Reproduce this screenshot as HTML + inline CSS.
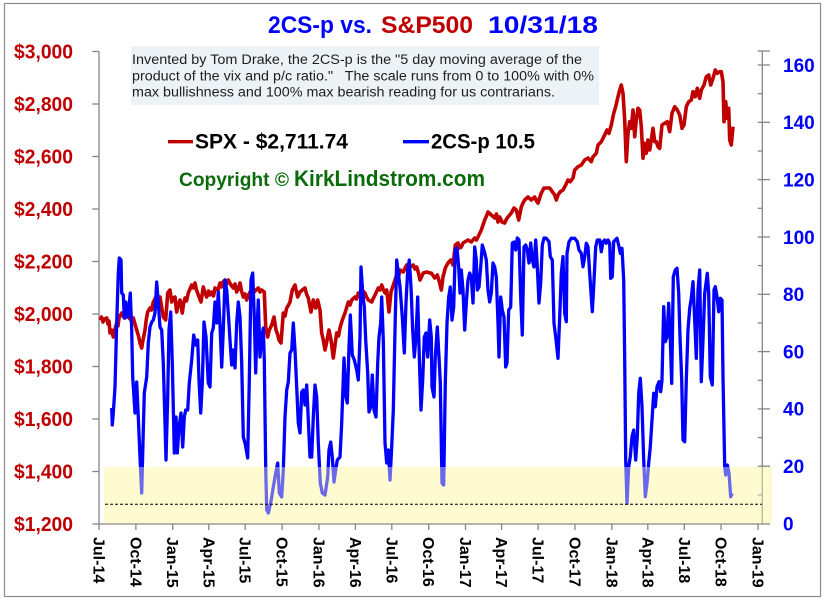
<!DOCTYPE html>
<html><head><meta charset="utf-8"><style>
html,body{margin:0;padding:0;background:#fff;}
svg{display:block;font-family:"Liberation Sans",Arial,sans-serif;}
</style></head><body>
<svg width="826" height="602" viewBox="0 0 826 602" xmlns="http://www.w3.org/2000/svg">
<rect x="0" y="0" width="826" height="602" fill="#fff"/>
<rect x="4.5" y="3.5" width="816" height="593" fill="none" stroke="#8a8a8a" stroke-width="1.2"/>

<!-- title -->
<text x="268" y="33" font-size="24" font-weight="bold" fill="#0000ff" textLength="104" lengthAdjust="spacingAndGlyphs">2CS-p vs.</text>
<text x="381" y="33" font-size="24" font-weight="bold" fill="#c00000" textLength="92" lengthAdjust="spacingAndGlyphs">S&amp;P500</text>
<text x="488" y="33" font-size="24" font-weight="bold" fill="#0000ff" textLength="110" lengthAdjust="spacingAndGlyphs">10/31/18</text>

<!-- text box -->
<rect x="131" y="46" width="468" height="59" fill="#edf2f7"/>
<text x="132" y="64" font-size="13.5" fill="#1e1e1e" textLength="450" lengthAdjust="spacingAndGlyphs" style="white-space:pre">Invented by Tom Drake, the 2CS-p is the "5 day moving average of the</text>
<text x="132" y="80.3" font-size="13.5" fill="#1e1e1e" textLength="462" lengthAdjust="spacingAndGlyphs" style="white-space:pre">product of the vix and p/c ratio."   The scale runs from 0 to 100% with 0%</text>
<text x="132" y="96.3" font-size="13.5" fill="#1e1e1e" textLength="423" lengthAdjust="spacingAndGlyphs" style="white-space:pre">max bullishness and 100% max bearish reading for us contrarians.</text>

<!-- legend -->
<line x1="168" y1="141.7" x2="193" y2="141.7" stroke="#c00000" stroke-width="3.3"/>
<text x="195" y="148.3" font-size="21" font-weight="bold" fill="#000" textLength="153" lengthAdjust="spacingAndGlyphs">SPX - $2,711.74</text>
<line x1="403" y1="141.7" x2="429" y2="141.7" stroke="#0000ff" stroke-width="3.3"/>
<text x="431" y="148.3" font-size="21" font-weight="bold" fill="#000" textLength="104" lengthAdjust="spacingAndGlyphs">2CS-p 10.5</text>

<!-- copyright -->
<text x="179" y="186" font-size="19" font-weight="bold" fill="#0b6b0b" textLength="110" lengthAdjust="spacingAndGlyphs">Copyright ©</text>
<text x="294" y="186" font-size="22" font-weight="bold" fill="#0b6b0b" textLength="191" lengthAdjust="spacingAndGlyphs">KirkLindstrom.com</text>

<!-- yellow band underlay -->
<rect x="104" y="467" width="668" height="57" fill="#fffcd0"/>

<!-- left axis -->
<g stroke="#868686" stroke-width="1.3">
<line x1="99" y1="51.5" x2="99" y2="524"/>
<line x1="92.3" y1="51.5" x2="99" y2="51.5"/>
<line x1="92.3" y1="104" x2="99" y2="104"/>
<line x1="92.3" y1="156.5" x2="99" y2="156.5"/>
<line x1="92.3" y1="209" x2="99" y2="209"/>
<line x1="92.3" y1="261.5" x2="99" y2="261.5"/>
<line x1="92.3" y1="314" x2="99" y2="314"/>
<line x1="92.3" y1="366.5" x2="99" y2="366.5"/>
<line x1="92.3" y1="419" x2="99" y2="419"/>
<line x1="92.3" y1="471.5" x2="99" y2="471.5"/>
<line x1="92.3" y1="524" x2="770" y2="524"/>
<!-- right axis -->
<line x1="762.3" y1="51" x2="762.3" y2="524"/>
<line x1="757.7" y1="51" x2="770" y2="51"/>
<line x1="757.7" y1="65" x2="770" y2="65"/>
<line x1="757.7" y1="93.7" x2="762.3" y2="93.7"/>
<line x1="757.7" y1="122.3" x2="770" y2="122.3"/>
<line x1="757.7" y1="151" x2="762.3" y2="151"/>
<line x1="757.7" y1="179.6" x2="770" y2="179.6"/>
<line x1="757.7" y1="208.3" x2="762.3" y2="208.3"/>
<line x1="757.7" y1="237" x2="770" y2="237"/>
<line x1="757.7" y1="265.6" x2="762.3" y2="265.6"/>
<line x1="757.7" y1="294.3" x2="770" y2="294.3"/>
<line x1="757.7" y1="323" x2="762.3" y2="323"/>
<line x1="757.7" y1="351.6" x2="770" y2="351.6"/>
<line x1="757.7" y1="380.3" x2="762.3" y2="380.3"/>
<line x1="757.7" y1="408.9" x2="770" y2="408.9"/>
<line x1="757.7" y1="437.6" x2="762.3" y2="437.6"/>
<line x1="757.7" y1="466.2" x2="770" y2="466.2"/>
<line x1="757.7" y1="494.9" x2="762.3" y2="494.9"/>
<!-- x ticks -->
<line x1="99" y1="524" x2="99" y2="530"/>
<line x1="135.9" y1="524" x2="135.9" y2="530"/>
<line x1="172.7" y1="524" x2="172.7" y2="530"/>
<line x1="208.8" y1="524" x2="208.8" y2="530"/>
<line x1="245.2" y1="524" x2="245.2" y2="530"/>
<line x1="282.1" y1="524" x2="282.1" y2="530"/>
<line x1="318.9" y1="524" x2="318.9" y2="530"/>
<line x1="355.4" y1="524" x2="355.4" y2="530"/>
<line x1="391.8" y1="524" x2="391.8" y2="530"/>
<line x1="428.7" y1="524" x2="428.7" y2="530"/>
<line x1="465.5" y1="524" x2="465.5" y2="530"/>
<line x1="501.6" y1="524" x2="501.6" y2="530"/>
<line x1="538.1" y1="524" x2="538.1" y2="530"/>
<line x1="574.9" y1="524" x2="574.9" y2="530"/>
<line x1="611.8" y1="524" x2="611.8" y2="530"/>
<line x1="647.8" y1="524" x2="647.8" y2="530"/>
<line x1="684.3" y1="524" x2="684.3" y2="530"/>
<line x1="721.1" y1="524" x2="721.1" y2="530"/>
<line x1="758" y1="524" x2="758" y2="530"/>
</g>

<!-- left labels -->
<g font-size="20" font-weight="bold" fill="#c00000">
<text x="14" y="58.5" textLength="59" lengthAdjust="spacingAndGlyphs">$3,000</text>
<text x="14" y="111" textLength="59" lengthAdjust="spacingAndGlyphs">$2,800</text>
<text x="14" y="163.5" textLength="59" lengthAdjust="spacingAndGlyphs">$2,600</text>
<text x="14" y="216" textLength="59" lengthAdjust="spacingAndGlyphs">$2,400</text>
<text x="14" y="268.5" textLength="59" lengthAdjust="spacingAndGlyphs">$2,200</text>
<text x="14" y="321" textLength="59" lengthAdjust="spacingAndGlyphs">$2,000</text>
<text x="14" y="373.5" textLength="59" lengthAdjust="spacingAndGlyphs">$1,800</text>
<text x="14" y="426" textLength="59" lengthAdjust="spacingAndGlyphs">$1,600</text>
<text x="14" y="478.5" textLength="59" lengthAdjust="spacingAndGlyphs">$1,400</text>
<text x="14" y="531" textLength="59" lengthAdjust="spacingAndGlyphs">$1,200</text>
</g>

<!-- right labels -->
<g font-size="19" font-weight="bold" fill="#0000ff">
<text x="783" y="71.8">160</text>
<text x="783" y="129.1">140</text>
<text x="783" y="186.4">120</text>
<text x="783" y="243.8">100</text>
<text x="783" y="301.1">80</text>
<text x="783" y="358.4">60</text>
<text x="783" y="415.7">40</text>
<text x="783" y="473">20</text>
<text x="783" y="530.3">0</text>
</g>

<!-- x labels -->
<g font-size="16" font-weight="bold" fill="#000">
<text transform="translate(93.5,537) rotate(90)">Jul-14</text>
<text transform="translate(130.4,537) rotate(90)">Oct-14</text>
<text transform="translate(167.2,537) rotate(90)">Jan-15</text>
<text transform="translate(203.3,537) rotate(90)">Apr-15</text>
<text transform="translate(239.7,537) rotate(90)">Jul-15</text>
<text transform="translate(276.6,537) rotate(90)">Oct-15</text>
<text transform="translate(313.4,537) rotate(90)">Jan-16</text>
<text transform="translate(349.9,537) rotate(90)">Apr-16</text>
<text transform="translate(386.3,537) rotate(90)">Jul-16</text>
<text transform="translate(423.2,537) rotate(90)">Oct-16</text>
<text transform="translate(460,537) rotate(90)">Jan-17</text>
<text transform="translate(496.1,537) rotate(90)">Apr-17</text>
<text transform="translate(532.6,537) rotate(90)">Jul-17</text>
<text transform="translate(569.4,537) rotate(90)">Oct-17</text>
<text transform="translate(606.3,537) rotate(90)">Jan-18</text>
<text transform="translate(642.3,537) rotate(90)">Apr-18</text>
<text transform="translate(678.8,537) rotate(90)">Jul-18</text>
<text transform="translate(715.6,537) rotate(90)">Oct-18</text>
<text transform="translate(752.5,537) rotate(90)">Jan-19</text>
</g>

<!-- SPX -->
<polyline fill="none" stroke="#c00000" stroke-width="3.6" stroke-linejoin="round" points="100,320 101.5,317 103,322 104.5,319 106.7,318 108,324 109,321 110,333 111.5,330 113.3,337 115,329 116.7,323 118,326 119,318 121.7,313 123,316 125,318 126.5,314 128.3,317 131,320 133.3,318 135,324 136.7,330 138.5,336 140,343 141.7,348 143,340 145,330 146.5,318 147.7,312 150,308 151.5,310 153.3,302 155,299 156.7,295 158.5,300 160,297 161.5,306 163.3,317 165.7,320 167.7,293 170,290 171.7,302 173,298 175,297 176.7,312 178,305 180,300 182.3,313 183.5,304 185,298 186.5,301 188.3,293 190,289 191.7,285 193.5,288 195,283 196.5,290 198.3,295 201,302 203.3,287 205,293 206.7,297 208.5,291 210,295 212,292 213.5,296 215,288 218,290 220,283 221.5,287 223,282 225,280 226.5,284 228.3,280 231,285 233.3,288 235,284 236.7,292 238.5,288 240,283 241.5,291 243.3,297 245,294 246.7,300 248.5,295 250,292 253.3,293 256,290 258.3,288 260,292 261.7,290 264.3,292 265.7,327 267.7,337 269.3,330 271.7,325 274,317 276,330 277.5,334 279,340 281,343 283.3,313 285,316 286.7,308 288.5,305 290,302 292.3,290 295,285 296.5,292 297.7,297 300,292 302.3,290 305,288 306.5,294 308.3,298 311,312 313.3,300 315.7,308 317.7,300 320,310 321.7,333 323.3,340 325,350 326.7,342 329,330 331,340 333.3,358 335,345 336.7,333 338.5,336 340,328 342.3,320 345,313 346.5,308 348.3,302 350,305 351.7,300 355,297 356.5,299 358.3,293 360,296 361.7,290 365,293 366.5,297 368.3,300 371.7,302 373.5,298 375,295 378.3,288 380,290 381.7,285 383.5,290 385,293 386.7,290 389,312 391,292 393.3,285 396.7,275 398.5,277 400,270 403.3,272 405,268 406.7,265 408.5,269 410,267 413.3,265 415,269 416.7,267 418.5,273 420,280 423.3,273 426.7,272 430,273 431.3,273 434.7,278 437.3,275 439.7,283 441.3,290 443,277 445.3,268 448,263 450.7,260 453,265 455.3,245 458,243 459.5,248 461.3,247 463,243 464.7,242 468,240 471.3,242 474.7,238 476.5,240 478,237 481.3,230 484.7,220 486.5,216 488,212 491.3,215 494.7,218 496.5,214 498,222 499.7,217 502,222 504.7,223 506.5,219 508,217 511.3,213 514,208 516.3,210 518.7,220 521.3,207 523,203 524.7,200 528,197 531.3,200 534.7,197 536.5,201 538,203 541.3,193 544,188 546.3,188 549.7,188 552.3,191.7 554.7,195 556.3,200 558,195 560.3,191.7 563,190 565.7,185 568,180 570.3,181.7 573,178 574.7,170 578,166.7 581.3,165 584.7,160 588,158 591.3,161.7 593,156.7 596.3,153.3 598,145 601.3,141.7 604.7,135 607,130 609,133.3 611.3,125 613.7,113.3 615.7,106.7 618,96.7 619.7,90 621.3,85 623,93.3 624.7,120 626.3,161.7 628,133.3 629.7,121.7 631.3,128.3 633,110 634.7,136.7 636.3,120 638,108.3 639.7,110 641.3,126.7 643,158.3 644.7,143.3 646.3,153.3 648,140 649.7,150 651.3,140 653,128.3 654.7,141.7 656.3,141.7 658,146.7 659.7,148.3 662,125 664.7,123.3 667.3,121.7 669.7,131.7 672,113.3 674.7,106.7 677.3,110 679.7,115 682,128.3 684,125 686.3,106.7 688.7,101.7 691.3,100 693,91.7 695.3,96.7 697.3,88.3 699.7,98.3 701.3,90 704,85 706.3,76.7 708.7,75 710.7,85 713,78.3 715.3,70 717.3,73.3 719.7,71.7 721.3,71.7 723,81.7 724,121.7 725.7,101.7 727.3,118.3 728.7,108.3 729.7,140 731.3,145 733,126.7"/>

<!-- 2CS-p -->
<polyline fill="none" stroke="#0000ff" stroke-width="3.3" stroke-linejoin="round" points="111.7,408 112.3,425 113.5,410 115,387 116.7,323 118.3,273 119.3,258 121,260 121.7,293 123.3,295 124.3,318 125.7,302 127.3,317 128.3,312 130.3,293 131.7,330 132.7,377 135,413 136.7,382 138.3,417 140,457 141.7,493 143.3,430 144.3,393 146.7,377 148.3,343 150,327 151.7,322 153.3,320 155,313 156.7,282 158.3,303 160,327 161.7,330 163.3,363 165,423 166,460 167.7,397 169,330 170.7,312 172.3,363 174.3,453 176,417 177.3,453 179,427 181,413 182.7,447 184.3,417 185.7,410 187.7,410 189.3,383 191.7,360 193.7,335 195.7,345 197.7,340 199,380 200.7,413 202.3,383 204,322 206,337 208.3,383 210,387 211.7,333 213.3,328 215,302 216.7,323 218.3,292 220,325 221.7,367 223.3,330 225,280 226.7,290 228.3,313 230,340 231.7,365 233.3,350 235,368 236.7,323 238.3,302 240,317 241.7,363 243.3,437 245,443 247.7,458 249.3,380 251,280 252.7,273 254.3,317 255.7,373 257,330 258.3,300 260,357 261.7,337 263.3,328 264.3,360 265.7,467 266.7,510 268.3,513 270.7,503 273.3,487 275.7,473 277.7,463 279.3,493 281.7,497 283.3,470 285,417 286.7,390 288.3,382 290,353 291.7,350 293.3,323 295,350 296.7,387 298.3,423 300,433 301.7,392 303.3,390 305,405 306.7,385 308.3,420 310,457 311.7,457 313.3,417 315,385 316.7,397 318.3,443 320.3,483 322.3,493 325,495 327.7,477 329,450 330.7,442 332.3,457 334,482 335.7,470 337.3,460 340,457 341.7,423 344,358 346,397 347.3,403 349,347 350.3,315 352.3,355 354.3,360 356.7,370 358.3,380 360,337 361,267 362.7,293 364.3,307 365.7,340 367.7,373 369,412 370.7,407 372.3,375 374,410 376,417 377.7,363 379,337 380.7,323 381.7,297 383.3,340 385,443 386.7,463 388.3,450 390,480 391.7,447 393.3,410 395,330 396.7,260 398.3,273 400,287 402.3,317 404.3,353 406,303 407.7,270 409.3,260 411,287 412.7,330 414.3,357 416,337 417.7,297 419.3,357 421,410 422.7,380 424.3,337 426,333 427.7,357 429.7,320 431.3,337 432,387 434,397 435.3,357 437.3,327 439,357 440.3,383 442,483 443.7,485 445.3,383 447,323 448.7,297 450.3,287 452,320 453.7,307 455.3,250 457,248 458.7,267 460,293 461.3,270 463,290 464.7,330 466.3,303 468,280 469.7,273 471.3,277 473,303 474.7,247 476.3,260 477.3,290 479,287 480.7,267 482.3,245 484.7,253 486.3,260 488,290 489.7,302 491.3,293 493,263 494.7,267 496.3,277 498,323 499,357 500.7,297 502.3,310 504,317 505.7,367 507,363 508.7,310 510.7,307 512.3,243 514,242 515.7,250 517.3,238 519,240 520.7,297 522.3,335 524,247 525.7,245 527.3,250 529,263 530.7,243 532.3,260 534,267 535.7,240 537.3,267 539,303 540.7,283 542.3,245 544,238 546.3,238.3 549,241.7 550.3,256.7 552.3,260 554,323.3 555.7,336.7 558,358.3 559.7,316.7 561.3,273.3 563,256.7 564.7,313.3 566.3,321.7 567,253.3 569,241.7 571.3,238.3 574.7,238.3 577.3,241.7 579,250 581.3,253.3 583,266.7 584.7,256.7 586.3,243.3 588,246.7 589.7,273.3 592.3,311.7 593.7,286.7 595.7,246.7 597.3,240 599.7,240 601.3,251.7 603,241.7 604.7,240 606.3,243.3 608,240 609.7,243.3 610.7,278.3 612.3,276.7 613.7,241.7 617,238.3 619,246.7 620.3,253.3 622,248.3 623.7,280 624.7,360 625.7,460 627,503.3 628.7,466.7 630.3,456.7 632,436.7 633.7,430 635.7,460 637.3,436.7 638.7,393.3 640.3,378.3 642,406.7 643.7,460 645.3,496.7 647,483.3 648.7,463.3 650.3,446.7 652,420 653.7,393.3 655.3,406.7 657,386.7 659,381.7 660.7,391.7 662,380 663.7,306.7 665.3,341.7 667,336.7 668.7,303.3 670.3,340 671.7,383.3 673.3,276.7 675.3,270 677,268.3 678.7,293.3 680,336.7 681.7,380 683,440 684.7,441.7 686.3,380 688,330 689.7,308.3 691.3,298.3 693,281.7 694.7,320 696.3,358.3 698,290 699.7,270 701.3,381.7 703,340 704.7,293.3 707.3,273.3 708.7,293.3 710.3,376.7 712.3,385 714,290 715.3,286.7 717,296.7 718.7,311.7 720.3,298.3 722,300 723,376.7 724.7,466.7 725.7,475 727.3,465 729,473.3 730.7,496.7 732.3,493.3"/>

<!-- yellow translucent overlay -->
<rect x="104" y="467" width="668" height="56.3" fill="#fffbd0" fill-opacity="0.42"/>
<!-- dashed line -->
<line x1="105" y1="504.3" x2="762" y2="504.3" stroke="#000" stroke-width="1" stroke-dasharray="3,2"/>
</svg>
</body></html>
